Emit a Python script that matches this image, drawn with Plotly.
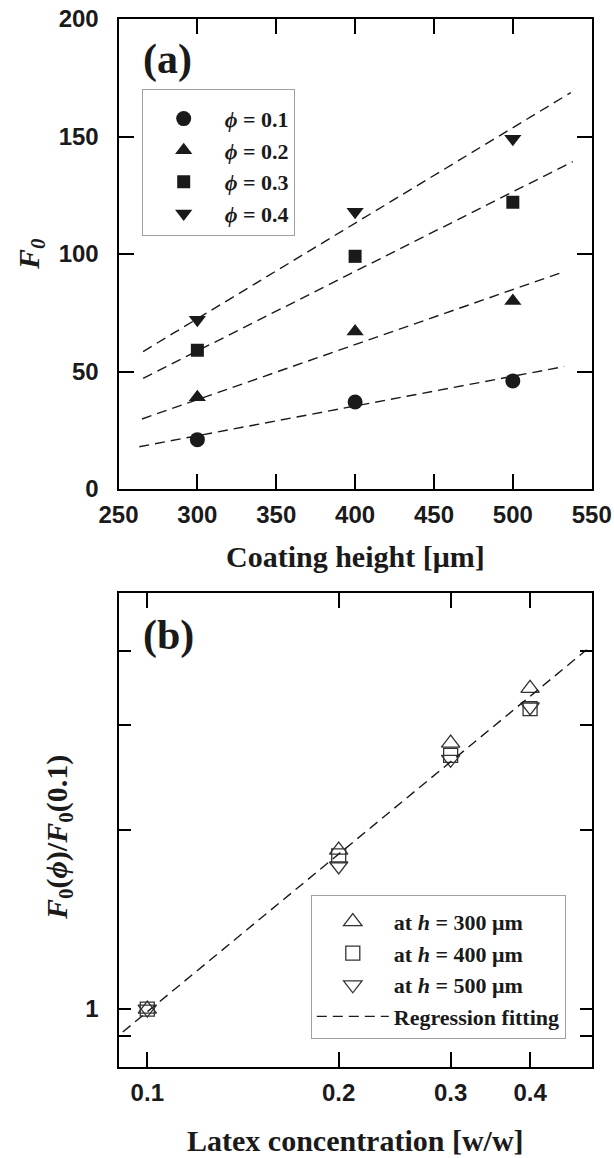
import plotly.graph_objects as go

# ---------------- Panel (a) data ----------------
heights = [300, 400, 500]
phi_labels = ["0.1", "0.2", "0.3", "0.4"]
F0_phi01 = [21, 37, 46]
F0_phi02 = [39, 67, 80]
F0_phi03 = [59, 99, 122]
F0_phi04 = [72, 118, 149]
# dashed fitted lines (start/end)
fit_x = [[263.2, 532.6], [264.9, 530.9], [265.6, 538.0], [265.6, 536.8]]
fit_y = [[18.0, 52.1], [29.8, 92.1], [47.1, 139.3], [58.5, 168.7]]

# ---------------- Panel (b) data ----------------
phi = [0.1, 0.2, 0.3, 0.4]
ratio_h300 = [1.0, 1.85, 2.80, 3.46]
ratio_h400 = [1.0, 1.81, 2.67, 3.20]
ratio_h500 = [1.0, 1.74, 2.63, 3.22]
reg_x = [0.0915, 0.491]
reg_y = [0.915, 4.02]

a_x_ticks = [250, 300, 350, 400, 450, 500, 550]
a_y_ticks = [0, 50, 100, 150, 200]
b_x_ticks = [0.1, 0.2, 0.3, 0.4]
b_x_text = ["0.1", "0.2", "0.3", "0.4"]
b_y_ticks = [1]
b_y_text = ["1"]
b_y_minor = [0.9, 2, 3, 4]

W, H = 614, 1158
SERIF = "Liberation Serif, Times New Roman, serif"
SANS = "Liberation Sans, Arial, sans-serif"
INK = "#1a1a1a"

fig = go.Figure()

a_series = [F0_phi01, F0_phi02, F0_phi03, F0_phi04]
a_symbols = ["circle", "triangle-up", "square", "triangle-down"]
a_sizes = [15, 15, 13, 15]
for i, (ys, sym, sz, lab) in enumerate(zip(a_series, a_symbols, a_sizes, phi_labels)):
    fig.add_trace(go.Scatter(
        x=heights, y=ys, mode="markers", xaxis="x", yaxis="y",
        marker=dict(symbol=sym, size=sz, color=INK, line=dict(width=0)),
        name="<b><i>\u03d5</i> = " + lab + "</b>", legend="legend",
        legendgroup="a%d" % i,
    ))
for fx, fy in zip(fit_x, fit_y):
    fig.add_trace(go.Scatter(
        x=fx, y=fy, mode="lines", xaxis="x", yaxis="y", showlegend=False,
        line=dict(color=INK, width=1.4, dash="10px,6px"),
    ))

b_series = [ratio_h300, ratio_h400, ratio_h500]
b_symbols = ["triangle-up-open", "square-open", "triangle-down-open"]
b_sizes = [16, 14, 16]
b_names = ["at <i>h</i> = 300 \u03bcm", "at <i>h</i> = 400 \u03bcm", "at <i>h</i> = 500 \u03bcm"]
for ys, sym, sz, nm in zip(b_series, b_symbols, b_sizes, b_names):
    fig.add_trace(go.Scatter(
        x=phi, y=ys, mode="markers", xaxis="x2", yaxis="y2",
        marker=dict(symbol=sym, size=sz, color="#333333", line=dict(width=1.3, color="#333333")),
        name="<b>" + nm + "</b>", legend="legend2",
    ))
fig.add_trace(go.Scatter(
    x=reg_x, y=reg_y, mode="lines", xaxis="x2", yaxis="y2",
    line=dict(color=INK, width=1.4, dash="10px,6px"),
    name="<b>Regression fitting</b>", legend="legend2",
))

ax_common = dict(
    showline=True, linewidth=2, linecolor="black", mirror="ticks",
    ticks="inside", tickwidth=2, tickcolor="black", showgrid=False, zeroline=False,
    automargin=False,
    tickfont=dict(family=SANS, size=24, color=INK, weight="bold"),
)

x0, x1 = 118.5 / W, 591.7 / W
fig.update_layout(
    template="none",
    width=W, height=H, margin=dict(l=0, r=0, t=0, b=0, pad=0),
    paper_bgcolor="white", plot_bgcolor="white",
    showlegend=True,
    xaxis=dict(domain=[x0, x1], range=[250, 550], tickvals=a_x_ticks, ticklen=15,
               anchor="y", ticklabelstandoff=3, **ax_common),
    yaxis=dict(domain=[1 - 489 / H, 1 - 19 / H], range=[0, 200], tickvals=a_y_ticks,
               ticklen=15, anchor="x", ticklabelstandoff=13, **ax_common),
    xaxis2=dict(domain=[x0, x1], type="log", range=[-1.0453, -0.301],
                tickvals=b_x_ticks, ticktext=b_x_text, ticklen=15,
                anchor="y2", ticklabelstandoff=3, **ax_common),
    yaxis2=dict(domain=[1 - 1066.7 / H, 1 - 593.3 / H], type="log",
                range=[-0.0969, 0.699], tickvals=b_y_ticks, ticktext=b_y_text,
                minor=dict(tickvals=b_y_minor, ticks="inside", ticklen=12,
                           tickwidth=2, tickcolor="black", showgrid=False),
                ticklen=12, anchor="x2", ticklabelstandoff=13, **ax_common),
    legend=dict(x=141.7 / W, y=1 - 89 / H, xanchor="left", yanchor="top",
                bgcolor="white", bordercolor="#a0a0a0", borderwidth=1,
                font=dict(family=SERIF, size=22, color=INK),
                title=dict(text=" ", font=dict(size=6)),
                itemwidth=72, tracegroupgap=0, traceorder="grouped"),
    legend2=dict(x=310.8 / W, y=1 - 894.6 / H, xanchor="left", yanchor="top",
                 bgcolor="white", bordercolor="#a0a0a0", borderwidth=1,
                 font=dict(family=SERIF, size=22, color=INK),
                 title=dict(text=" ", font=dict(size=4)),
                 itemwidth=72),
)

annos = [
    dict(text="<b>(a)</b>", x=167.5 / W, y=1 - 60 / H, size=42, angle=0),
    dict(text="<b>(b)</b>", x=168 / W, y=1 - 635 / H, size=42, angle=0),
    dict(text="<b>Coating height [\u03bcm]</b>", x=355 / W, y=1 - 556 / H, size=30, angle=0),
    dict(text="<b>Latex concentration [w/w]</b>", x=355 / W, y=1 - 1140 / H, size=30, angle=0),
    dict(text="<b><i>F<sub>0</sub></i></b>", x=31 / W, y=1 - 254 / H, size=30, angle=-90),
    dict(text="<b><i>F</i><sub>0</sub>(<i>\u03d5</i>)/<i>F</i><sub>0</sub>(0.1)</b>",
         x=59 / W, y=1 - 838 / H, size=30, angle=-90),
]
for a in annos:
    fig.add_annotation(text=a["text"], x=a["x"], y=a["y"], xref="paper", yref="paper",
                       xanchor="center", yanchor="middle", showarrow=False,
                       textangle=a["angle"], font=dict(family=SERIF, size=a["size"], color=INK))

fig.write_html("out.html", config={"displayModeBar": False},
               post_script="document.body.style.margin='0px';")
